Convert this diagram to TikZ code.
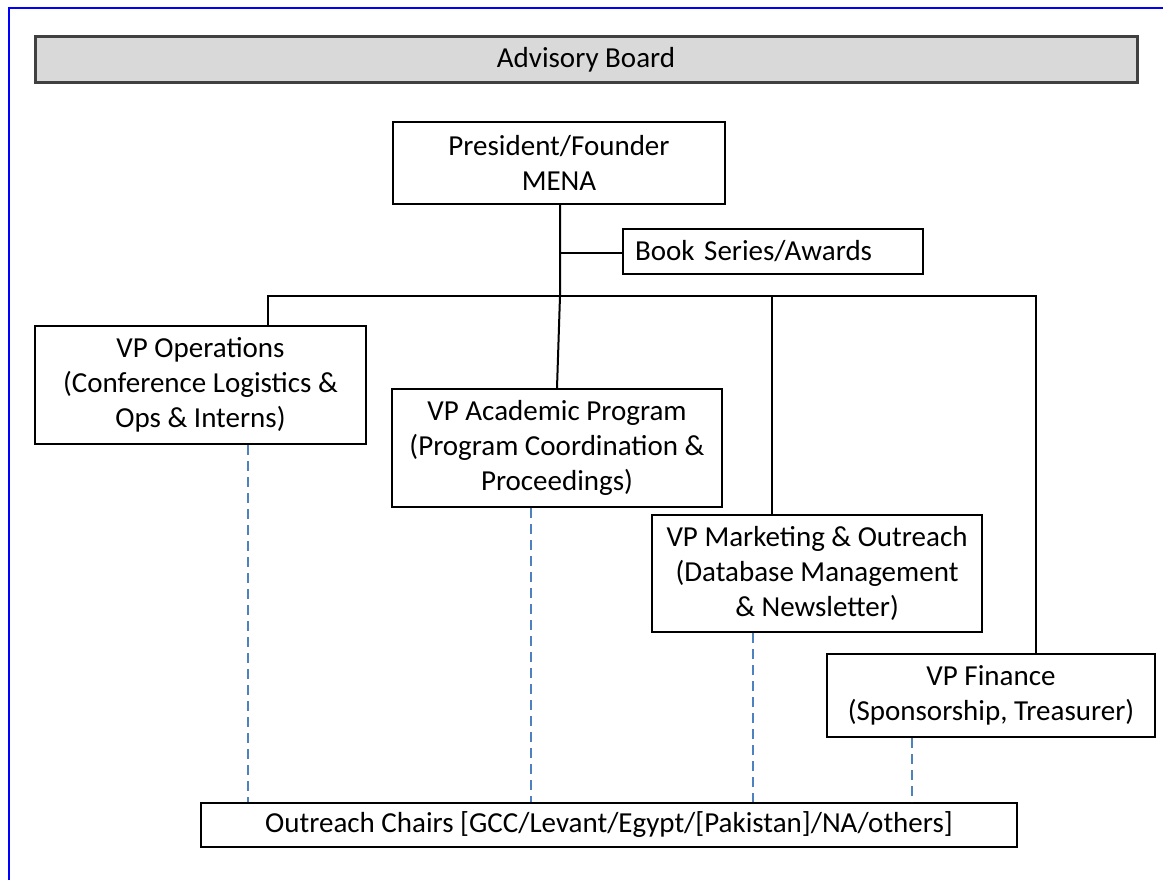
\documentclass[tikz,border=0pt]{standalone}
\usepackage{fontspec}
\setmainfont{Carlito}
\definecolor{boardfill}{HTML}{D9D9D9}
\definecolor{boardline}{HTML}{404040}
\definecolor{dashblue}{HTML}{4F81BD}
\tikzset{
  x=1pt, y=-1pt,
  boxnode/.style={draw=black, line width=2pt, fill=white, inner sep=0pt, align=center,
    font=\fontsize{29}{35}\selectfont},
  boardnode/.style={draw=boardline, line width=3pt, fill=boardfill, inner sep=0pt,
    font=\fontsize{29}{35}\selectfont},
  solidlink/.style={draw=black, line width=2pt},
  dashlink/.style={draw=dashblue, line width=1.6pt, dash pattern=on 10pt off 6pt},
  frameline/.style={draw=blue, line width=2.4pt}
}
\begin{document}
\begin{tikzpicture}
\useasboundingbox (0,0) rectangle (1163,880);
% frame
\draw[frameline] (9,880) -- (9,8) -- (1163,8);

% nodes
\node[boardnode, minimum width=1102pt, minimum height=46pt] (board) at (586,60) {Advisory Board};
\node[boxnode, minimum width=332pt, minimum height=82pt] (pres) at (559,163) {President/Founder\\MENA};
\node[boxnode, minimum width=300pt, minimum height=45pt, text width=276pt, align=left, inner xsep=12pt] (book) at (773,251.5) {Book Series/Awards};
\node[boxnode, minimum width=331pt, minimum height=118pt] (ops) at (200.5,385) {VP Operations\\(Conference Logistics \&\\Ops \& Interns)};
\node[boxnode, minimum width=330pt, minimum height=118pt] (acad) at (557,448) {VP Academic Program\\(Program Coordination \&\\Proceedings)};
\node[boxnode, minimum width=330pt, minimum height=117pt] (mkt) at (817,573.5) {VP Marketing \& Outreach\\(Database Management\\\& Newsletter)};
\node[boxnode, minimum width=328pt, minimum height=83pt] (fin) at (991,695.5) {VP Finance\\(Sponsorship, Treasurer)};
\node[boxnode, minimum width=816pt, minimum height=44pt] (out) at (609,825) {Outreach Chairs [GCC/Levant/Egypt/[Pakistan]/NA/others]};

% junctions
\coordinate (jmain) at (560,296);
\coordinate (jops) at (268,296);
\coordinate (jmkt) at (772,296);
\coordinate (jfin) at (1036,296);
\coordinate (jbook) at (560,253);

% solid connectors
\draw[solidlink] (pres.south -| jmain) -- (jmain) -- (acad.north);
\draw[solidlink] (jbook) -- (book.west |- jbook);
\draw[solidlink] (ops.north -| jops) -- (jops) -- (jfin) -- (fin.north -| jfin);
\draw[solidlink] (jmkt) -- (mkt.north -| jmkt);

% dashed connectors
\draw[dashlink] (ops.south -| 248,0) -- (out.north -| 248,0);
\draw[dashlink] (acad.south -| 531,0) -- (out.north -| 531,0);
\draw[dashlink] (mkt.south -| 753,0) -- (out.north -| 753,0);
\draw[dashlink] (fin.south -| 912,0) -- (out.north -| 912,0);
\end{tikzpicture}
\end{document}
